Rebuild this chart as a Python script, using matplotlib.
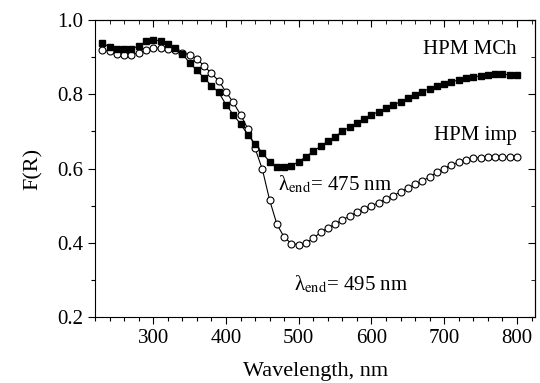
import matplotlib
matplotlib.use("Agg")
import matplotlib.pyplot as plt
import numpy as np
from matplotlib.ticker import MultipleLocator

plt.rcParams['font.family'] = ['Liberation Serif', 'DejaVu Serif']
plt.rcParams['mathtext.fontset'] = 'stix'
plt.rcParams['font.size'] = 15

# wavelength, nm
wavelength = list(range(230, 801, 10))

# HPM MCh (filled squares)
f_mch = [0.937, 0.928, 0.922, 0.922, 0.922, 0.930, 0.942, 0.946, 0.944, 0.935,
         0.925, 0.908, 0.885, 0.864, 0.844, 0.823, 0.805, 0.772, 0.745, 0.720,
         0.691, 0.666, 0.642, 0.618, 0.605, 0.603, 0.608, 0.618, 0.632, 0.646,
         0.660, 0.673, 0.686, 0.700, 0.712, 0.723, 0.734, 0.745, 0.753, 0.762,
         0.771, 0.780, 0.790, 0.799, 0.807, 0.815, 0.822, 0.828, 0.834, 0.838,
         0.843, 0.846, 0.850, 0.853, 0.855, 0.854, 0.852, 0.852]

# HPM imp (open circles)
f_imp = [0.919, 0.915, 0.909, 0.906, 0.906, 0.912, 0.919, 0.924, 0.924, 0.921,
         0.918, 0.912, 0.906, 0.895, 0.876, 0.856, 0.836, 0.806, 0.778, 0.745,
         0.707, 0.654, 0.598, 0.515, 0.450, 0.415, 0.398, 0.395, 0.400, 0.412,
         0.428, 0.440, 0.450, 0.462, 0.472, 0.482, 0.492, 0.500, 0.508, 0.517,
         0.527, 0.537, 0.547, 0.557, 0.566, 0.578, 0.590, 0.600, 0.610, 0.617,
         0.623, 0.627, 0.629, 0.631, 0.632, 0.632, 0.630, 0.632]

fig = plt.figure(figsize=(5.4, 3.83), dpi=100)
ax = fig.add_axes([0.176, 0.172, 0.815, 0.776])

ax.plot(wavelength, f_imp, color='black', linewidth=0.8, marker='o',
        markersize=5, markerfacecolor='white', markeredgecolor='black',
        markeredgewidth=0.8)
ax.plot(wavelength, f_mch, color='black', linewidth=0.8, marker='s',
        markersize=4.3, markerfacecolor='black', markeredgecolor='black')

ax.set_xlim(220, 825)
ax.set_ylim(0.2, 1.0)
ax.xaxis.set_major_locator(MultipleLocator(100))
ax.xaxis.set_minor_locator(MultipleLocator(20))
ax.yaxis.set_major_locator(MultipleLocator(0.2))
ax.yaxis.set_minor_locator(MultipleLocator(0.1))
ax.yaxis.set_major_formatter(matplotlib.ticker.FormatStrFormatter('%.1f'))
ax.tick_params(which='major', direction='out', length=5, width=0.8)
ax.tick_params(which='minor', direction='out', length=3, width=0.8)

# inward ticks on top and right
top = ax.secondary_xaxis('top')
top.xaxis.set_major_locator(MultipleLocator(100))
top.xaxis.set_minor_locator(MultipleLocator(20))
top.tick_params(which='major', direction='in', length=5, labeltop=False)
top.tick_params(which='minor', direction='in', length=3)
right = ax.secondary_yaxis('right')
right.yaxis.set_major_locator(MultipleLocator(0.2))
right.yaxis.set_minor_locator(MultipleLocator(0.1))
right.tick_params(which='major', direction='in', length=5, labelright=False)
right.tick_params(which='minor', direction='in', length=3)

ax.set_xlabel("Wavelength, nm", fontsize=16, labelpad=10)
ax.set_ylabel("F(R)", fontsize=16, labelpad=10)

ax.text(800, 0.92, "HPM MCh", ha='right', va='center')
ax.text(800, 0.69, "HPM imp", ha='right', va='center')
ax.text(471, 0.557, "λ$_{\\rm end}$= 475 nm", ha='left', va='center')
ax.text(494, 0.289, "λ$_{\\rm end}$= 495 nm", ha='left', va='center')

fig.savefig('out.png', dpi=100)
